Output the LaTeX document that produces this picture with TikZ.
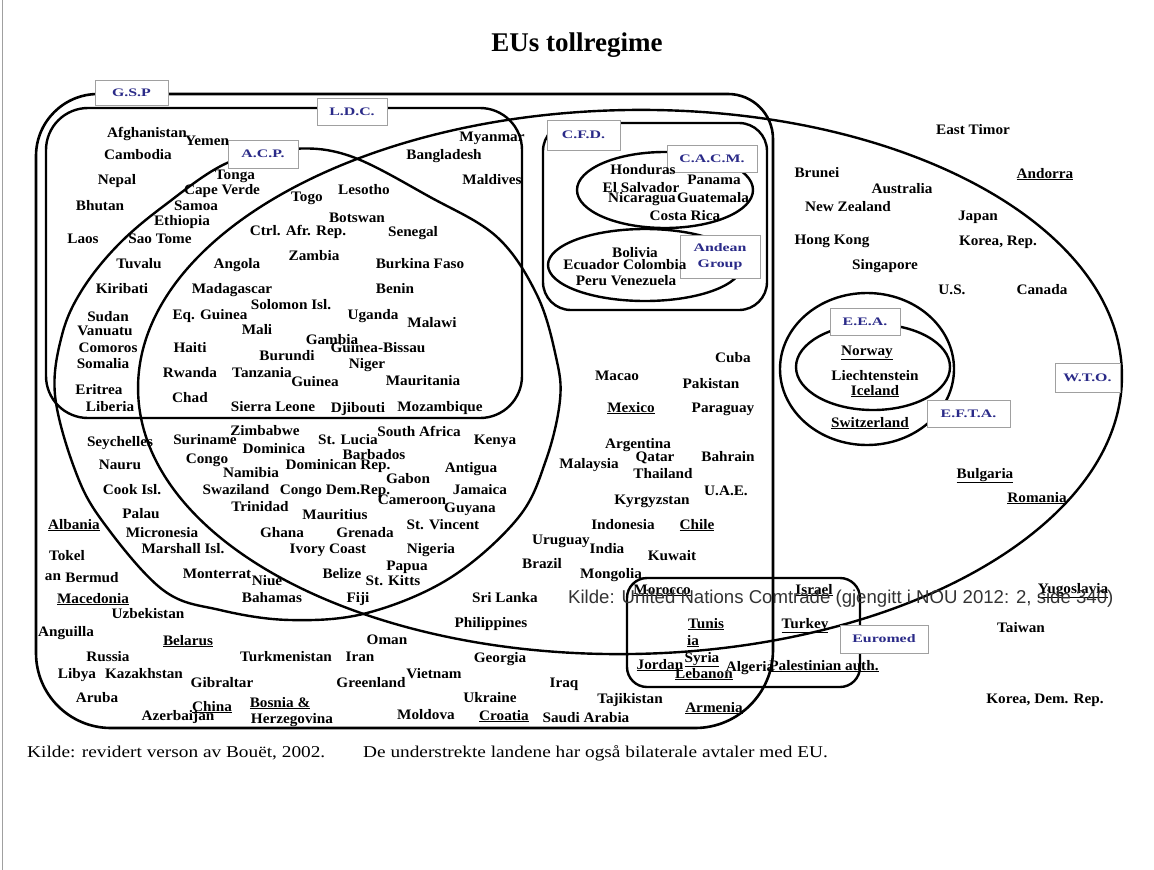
\documentclass[tikz,border=0pt]{standalone}
\usepackage{fontspec}
\setmainfont{Liberation Serif}
\newfontfamily\ctryfont[FakeStretch=1.05]{Liberation Serif}
\newfontfamily\lblfont[FakeStretch=1.38]{Liberation Serif}
\newfontfamily\footfont[FakeStretch=1.17]{Liberation Serif}
\newfontfamily\kildefont{Liberation Sans}
\definecolor{lblblue}{HTML}{2A2A88}
\definecolor{lblframe}{HTML}{A0A0A0}
\definecolor{kildegray}{HTML}{333333}
\newcommand\C[4]{\node[ctry] (#1) at (#2,#3) {#4};}
\newcommand\CU[4]{\node[ctry] (#1) at (#2,#3) {\underline{#4}};}
\begin{document}
\begin{tikzpicture}[x=1pt,y=-1pt,
  ctry/.style={font=\ctryfont\bfseries\fontsize{14.5}{16}\selectfont, inner sep=0pt, anchor=base, yshift=-5pt},
  lbl/.style={draw=lblframe, line width=0.9pt, fill=white, text=lblblue, font=\lblfont\bfseries\fontsize{11.5}{16}\selectfont, inner sep=0pt, align=center},
  ring/.style={line width=2.4pt, line join=round},
  gsp/.style={line width=2.6pt, line join=round},
]
\useasboundingbox (0,0) rectangle (1154,870);
\fill[white] (0,0) rectangle (1154,870);
\draw[lblframe, line width=1pt] (2.5,0) -- (2.5,870);

% title
\node[font=\bfseries\fontsize{27}{30}\selectfont] (title) at (577,45) {EUs tollregime};

% ---------- region outlines ----------
% G.S.P
\draw[gsp] (168,94) -- (728,94) arc[start angle=270, end angle=360, radius=45]
  -- (773,650) arc[start angle=0, end angle=90, radius=78]
  -- (111,728) arc[start angle=90, end angle=180, radius=75]
  -- (36,156) arc[start angle=180, end angle=270, radius=62] -- (168,94);
% L.D.C.
\draw[ring, rounded corners=42pt] (46,108) rectangle (522,418);
% C.F.D.
\draw[ring, rounded corners=28pt] (543,123) rectangle (767,310);
% C.A.C.M. and Andean
\draw[ring] (665,190) ellipse[x radius=88, y radius=38];
\draw[ring] (645,265) ellipse[x radius=97, y radius=36];
% W.T.O.
\draw[ring, rotate around={1:(630,382)}] (630,382) ellipse[x radius=492, y radius=272];
% A.C.P.
\draw[ring] plot[smooth cycle, tension=0.6] coordinates {(290,149) (350,156) (430,197) (497,237) (537,295) (556,357) (560,400) (546,460) (518,518) (450,578) (367,613) (290,620) (220,610) (163,590) (103,522) (75,470) (55,395) (62,335) (82,290) (118,245) (165,205) (227,163)};
% E.F.T.A. / E.E.A.
\draw[ring] (867,369) ellipse[x radius=87, y radius=76];
\draw[ring] (873,367) ellipse[x radius=77, y radius=43];
% Euromed
\draw[ring, rounded corners=20pt] (627,578) rectangle (860,687);

% ---------- labels ----------
\node[lbl, minimum width=73pt, minimum height=25pt] (lgsp) at (131.5,92.5) {G.S.P};
\node[lbl, minimum width=70pt, minimum height=27pt] (lldc) at (352,111.5) {L.D.C.};
\node[lbl, minimum width=70pt, minimum height=28pt] (lacp) at (263,154) {A.C.P.};
\node[lbl, minimum width=73pt, minimum height=30pt] (lcfd) at (583.5,135) {C.F.D.};
\node[lbl, minimum width=90pt, minimum height=27pt] (lcacm) at (712,158.5) {C.A.C.M.};
\node[lbl, minimum width=80pt, minimum height=43pt] (land) at (720,256.5) {Andean\\Group};
\node[lbl, minimum width=70pt, minimum height=27pt] (leea) at (865,321.5) {E.E.A.};
\node[lbl, minimum width=83pt, minimum height=27pt] (lefta) at (968.5,413.5) {E.F.T.A.};
\node[lbl, minimum width=65pt, minimum height=29pt] (lwto) at (1087.5,377.5) {W.T.O.};
\node[lbl, minimum width=88pt, minimum height=28pt] (leuro) at (884,639) {Euromed};

% ---------- countries: L.D.C. / A.C.P. ----------
\C{afg}{147}{132}{Afghanistan}
\C{yem}{207}{140}{Yemen}
\C{khm}{138}{154}{Cambodia}
\C{ton}{235}{174}{Tonga}
\C{npl}{117}{179}{Nepal}
\C{cpv}{222}{189}{Cape Verde}
\C{tgo}{307}{196}{Togo}
\C{lso}{364}{189}{Lesotho}
\C{btn}{100}{205}{Bhutan}
\C{wsm}{196}{205}{Samoa}
\C{bwa}{357}{217}{Botswan}
\C{eth}{182}{220}{Ethiopia}
\C{caf}{298}{230}{Ctrl. Afr. Rep.}
\C{sen}{413}{231}{Senegal}
\C{lao}{83}{238}{Laos}
\C{stp}{160}{238}{Sao Tome}
\C{zmb}{314}{255}{Zambia}
\C{bfa}{420}{263}{Burkina Faso}
\C{tuv}{139}{263}{Tuvalu}
\C{ago}{237}{263}{Angola}
\C{ben}{395}{288}{Benin}
\C{kir}{122}{288}{Kiribati}
\C{mdg}{232}{288}{Madagascar}
\C{mmr}{492}{136}{Myanmar}
\C{bgd}{444}{154}{Bangladesh}
\C{mdv}{492}{179}{Maldives}
\C{slb}{291}{304}{Solomon Isl.}
\C{sdn}{108}{316}{Sudan}
\C{gnq}{210}{314}{Eq. Guinea}
\C{uga}{373}{314}{Uganda}
\C{mwi}{432}{322}{Malawi}
\C{vut}{105}{330}{Vanuatu}
\C{mli}{257}{329}{Mali}
\C{gmb}{332}{339}{Gambia}
\C{gnb}{378}{347}{Guinea-Bissau}
\C{com}{108}{347}{Comoros}
\C{hti}{190}{347}{Haiti}
\C{bdi}{287}{355}{Burundi}
\C{ner}{367}{363}{Niger}
\C{som}{103}{363}{Somalia}
\C{rwa}{190}{372}{Rwanda}
\C{tza}{262}{372}{Tanzania}
\C{gin}{315}{381}{Guinea}
\C{mrt}{423}{380}{Mauritania}
\C{eri}{99}{389}{Eritrea}
\C{tcd}{190}{397}{Chad}
\C{lbr}{110}{406}{Liberia}
\C{sle}{273}{406}{Sierra Leone}
\C{dji}{358}{407}{Djibouti}
\C{moz}{440}{406}{Mozambique}

% ---------- countries: rest of G.S.P. ----------
\C{zwe}{265}{430}{Zimbabwe}
\C{lca}{348}{439}{St. Lucia}
\C{zaf}{419}{431}{South Africa}
\C{ken}{495}{439}{Kenya}
\C{syc}{120}{441}{Seychelles}
\C{sur}{205}{439}{Suriname}
\C{dma}{274}{448}{Dominica}
\C{cog}{207}{458}{Congo}
\C{brb}{374}{454}{Barbados}
\C{nru}{120}{464}{Nauru}
\C{nam}{251}{472}{Namibia}
\C{dom}{338}{464}{Dominican Rep.}
\C{atg}{471}{467}{Antigua}
\C{gab}{408}{478}{Gabon}
\C{mys}{589}{463}{Malaysia}
\C{cok}{132}{489}{Cook Isl.}
\C{swz}{236}{489}{Swaziland}
\C{cod}{335}{489}{Congo Dem.Rep.}
\C{jam}{480}{489}{Jamaica}
\C{cmr}{412}{499}{Cameroon}
\C{guy}{470}{507}{Guyana}
\C{tto}{260}{506}{Trinidad}
\C{plw}{141}{513}{Palau}
\C{mus}{335}{514}{Mauritius}
\CU{alb}{74}{524}{Albania}
\C{fsm}{162}{532}{Micronesia}
\C{gha}{282}{532}{Ghana}
\C{grd}{365}{532}{Grenada}
\C{mhl}{183}{548}{Marshall Isl.}
\C{civ}{328}{548}{Ivory Coast}
\C{tkla}{67}{555}{Tokel}
\C{tklb}{53}{575}{an}
\C{bmu}{92}{577}{Bermud}
\C{msr}{217}{573}{Monterrat}
\C{niu}{267}{580}{Niue}
\C{blz}{342}{573}{Belize}
\CU{mkd}{93}{598}{Macedonia}
\C{bhs}{272}{597}{Bahamas}
\C{fji}{358}{597}{Fiji}
\C{uzb}{148}{613}{Uzbekistan}
\C{aia}{66}{631}{Anguilla}
\CU{blr}{188}{640}{Belarus}
\C{rus}{108}{656}{Russia}
\C{tkm}{286}{656}{Turkmenistan}
\C{irn}{360}{656}{Iran}
\C{lby}{77}{673}{Libya}
\C{kaz}{144}{673}{Kazakhstan}
\C{gib}{222}{682}{Gibraltar}
\C{grl}{371}{682}{Greenland}
\C{abw}{97}{697}{Aruba}
\CU{chn}{212}{706}{China}
\CU{biha}{280}{702}{Bosnia \&}
\C{aze}{178}{715}{Azerbaijan}
\CU{bihb}{292}{718}{Herzegovina}
\C{vct}{443}{524}{St. Vincent}
\C{nga}{431}{548}{Nigeria}
\C{png}{407}{565}{Papua}
\C{kna}{393}{580}{St. Kitts}
\C{omn}{387}{639}{Oman}
\C{vnm}{434}{673}{Vietnam}
\C{mda}{426}{714}{Moldova}
\C{ukr}{490}{697}{Ukraine}
\CU{hrv}{504}{715}{Croatia}
\C{sau}{586}{717}{Saudi Arabia}
\C{geo}{500}{657}{Georgia}
\C{irq}{564}{682}{Iraq}
\C{phl}{491}{622}{Philippines}
\C{lka}{505}{597}{Sri Lanka}
\C{bra}{542}{563}{Brazil}
\C{ury}{561}{539}{Uruguay}
\C{ind}{607}{548}{India}
\C{mng}{611}{573}{Mongolia}
\C{idn}{623}{524}{Indonesia}
\CU{chl}{697}{524}{Chile}
\C{kwt}{672}{555}{Kuwait}
\C{tjk}{630}{698}{Tajikistan}
\CU{arm}{714}{707}{Armenia}
\C{cub}{733}{357}{Cuba}
\C{mac}{617}{375}{Macao}
\C{pak}{711}{383}{Pakistan}
\CU{mex}{631}{407}{Mexico}
\C{pry}{723}{407}{Paraguay}
\C{arg}{638}{443}{Argentina}
\C{qat}{655}{456}{Qatar}
\C{bhr}{728}{456}{Bahrain}
\C{tha}{663}{473}{Thailand}
\C{are}{726}{490}{U.A.E.}
\C{kgz}{652}{499}{Kyrgyzstan}

% ---------- C.F.D. ----------
\C{hnd}{643}{169}{Honduras}
\C{pan}{714}{179}{Panama}
\C{slv}{641}{187}{El Salvador}
\C{nic}{642}{197}{Nicaragua}
\C{gtm}{713}{197}{Guatemala}
\C{cri}{685}{215}{Costa Rica}
\C{bol}{635}{252}{Bolivia}
\C{ecu}{625}{264}{Ecuador Colombia}
\C{per}{626}{280}{Peru Venezuela}

% ---------- E.E.A. / E.F.T.A. ----------
\CU{nor}{867}{350}{Norway}
\C{lie}{875}{375}{Liechtenstein}
\CU{isl}{875}{390}{Iceland}
\CU{che}{870}{422}{Switzerland}
\CU{bgr}{985}{473}{Bulgaria}
\CU{rou}{1037}{497}{Romania}

% ---------- W.T.O. only / outside ----------
\C{tls}{973}{129}{East Timor}
\C{brn}{817}{172}{Brunei}
\CU{and}{1045}{173}{Andorra}
\C{aus}{902}{188}{Australia}
\C{nzl}{848}{206}{New Zealand}
\C{jpn}{978}{215}{Japan}
\C{hkg}{832}{239}{Hong Kong}
\C{kor}{998}{240}{Korea, Rep.}
\C{sgp}{885}{264}{Singapore}
\C{usa}{952}{289}{U.S.}
\C{can}{1042}{289}{Canada}
\CU{yug}{1073}{588}{Yugoslavia}
\C{twn}{1021}{627}{Taiwan}
\C{prk}{1045}{698}{Korea, Dem. Rep.}

% ---------- Euromed ----------
\CU{mar}{662}{589}{Morocco}
\CU{isr}{814}{589}{Israel}
\CU{tuna}{706}{623}{Tunis}
\CU{tunb}{693}{640}{ia}
\CU{tur}{805}{623}{Turkey}
\CU{syr}{702}{657}{Syria}
\CU{jor}{660}{664}{Jordan}
\CU{lbn}{704}{673}{Lebanon}
\C{dza}{750}{666}{Algeria}
\CU{pse}{824}{665}{Palestinian auth.}

% ---------- sources ----------
\node[font=\footfont\fontsize{16.5}{18}\selectfont, anchor=west, inner sep=0pt] (src1) at (27,753) {Kilde: revidert verson av Bouët, 2002.};
\node[font=\footfont\fontsize{16.5}{18}\selectfont, anchor=west, inner sep=0pt] (src2) at (363,753) {De understrekte landene har også bilaterale avtaler med EU.};
\node[font=\kildefont\fontsize{18.6}{21}\selectfont, text=kildegray, anchor=west, inner sep=0pt] (kilde) at (568,599) {Kilde: United Nations Comtrade (gjengitt i NOU 2012: 2, side 340)};
\end{tikzpicture}
\end{document}
